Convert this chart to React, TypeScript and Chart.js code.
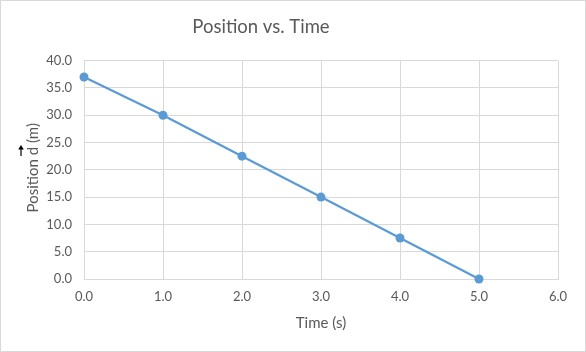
import { useEffect, useRef } from "react";
import { Chart, registerables } from "chart.js";

Chart.register(...registerables);

const timeValues = [0, 1, 2, 3, 4, 5];
const positionValues = [37, 30, 22.5, 15, 7.5, 0];
const chartTitle = "Position vs. Time";
const xAxisTitle = "Time (s)";
const yTitleBefore = "Position ";
const yTitleVector = "d";
const yTitleAfter = " (m)";

const textColor = "#595959";
const gridColor = "#d9d9d9";
const seriesColor = "#5B9BD5";
const fontFamily = "Lato";

const titlesPlugin = {
  id: "customTitles",
  afterDraw(chart: any) {
    const { ctx, chartArea } = chart;
    // chart title
    ctx.save();
    ctx.font = `18.5px ${fontFamily}`;
    ctx.fillStyle = textColor;
    ctx.textAlign = "center";
    ctx.textBaseline = "middle";
    ctx.fillText(chartTitle, 260, 26);
    ctx.restore();

    // y-axis title with vector arrow over d
    const cx = 32;
    const cy = (chartArea.top + chartArea.bottom) / 2 - 2;
    ctx.save();
    ctx.translate(cx, cy);
    ctx.rotate(-Math.PI / 2);
    ctx.font = `15px ${fontFamily}`;
    ctx.fillStyle = textColor;
    ctx.textBaseline = "middle";
    ctx.textAlign = "left";
    const full = yTitleBefore + yTitleVector + yTitleAfter;
    const w = ctx.measureText(full).width;
    const wb = ctx.measureText(yTitleBefore).width;
    const wd = ctx.measureText(yTitleVector).width;
    ctx.fillText(full, -w / 2, 0);
    const dc = -w / 2 + wb + wd / 2;
    const ay = -12;
    const x0 = dc - 5;
    const x1 = dc + 6;
    ctx.strokeStyle = "#000";
    ctx.fillStyle = "#000";
    ctx.lineWidth = 1.2;
    ctx.beginPath();
    ctx.moveTo(x0, ay);
    ctx.lineTo(x1 - 3, ay);
    ctx.stroke();
    ctx.beginPath();
    ctx.moveTo(x1, ay);
    ctx.lineTo(x1 - 4.5, ay - 2.8);
    ctx.lineTo(x1 - 4.5, ay + 2.8);
    ctx.closePath();
    ctx.fill();
    ctx.restore();
  },
};

export default function App() {
  const ref = useRef<HTMLCanvasElement | null>(null);

  useEffect(() => {
    document.body.style.margin = "0";
    if (!ref.current) return;
    const chart = new Chart(ref.current, {
      type: "line",
      data: {
        datasets: [
          {
            data: timeValues.map((t, i) => ({ x: t, y: positionValues[i] })),
            borderColor: seriesColor,
            backgroundColor: seriesColor,
            borderWidth: 2.25,
            pointRadius: 4.5,
            pointBorderWidth: 0,
            pointBackgroundColor: seriesColor,
            tension: 0,
            clip: false,
          },
        ],
      },
      options: {
        animation: false,
        responsive: false,
        devicePixelRatio: 1,
        layout: { padding: { left: 0, right: 27, top: 0, bottom: 0 } },
        plugins: {
          legend: { display: false },
          tooltip: { enabled: false },
          title: {
            display: true,
            text: chartTitle,
            color: "rgba(0,0,0,0)",
            font: { family: fontFamily, size: 18, weight: "normal" },
            padding: { top: 15, bottom: 23 },
          },
        },
        scales: {
          x: {
            type: "linear",
            min: 0,
            max: 6,
            ticks: {
              stepSize: 1,
              color: textColor,
              font: { family: fontFamily, size: 13 },
              padding: 10,
              callback: (v: any) => Number(v).toFixed(1),
            },
            grid: { color: gridColor, drawTicks: false },
            border: { color: gridColor },
            title: {
              display: true,
              text: xAxisTitle,
              color: textColor,
              font: { family: fontFamily, size: 15 },
              padding: { top: 0, bottom: 19 },
            },
            afterFit: (scale: any) => {
              scale.height = 72;
            },
          },
          y: {
            type: "linear",
            min: 0,
            max: 40,
            ticks: {
              stepSize: 5,
              color: textColor,
              font: { family: fontFamily, size: 13 },
              padding: 12,
              callback: (v: any) => Number(v).toFixed(1),
            },
            grid: { color: gridColor, drawTicks: false },
            border: { color: gridColor },
            afterFit: (scale: any) => {
              scale.width = 83;
            },
          },
        },
      },
      plugins: [titlesPlugin],
    });
    return () => chart.destroy();
  }, []);

  return (
    <div
      style={{
        width: 586,
        height: 352,
        boxSizing: "border-box",
        border: "1px solid #d9d9d9",
        background: "#fff",
      }}
    >
      <canvas ref={ref} width={584} height={350} style={{ display: "block" }} />
    </div>
  );
}
